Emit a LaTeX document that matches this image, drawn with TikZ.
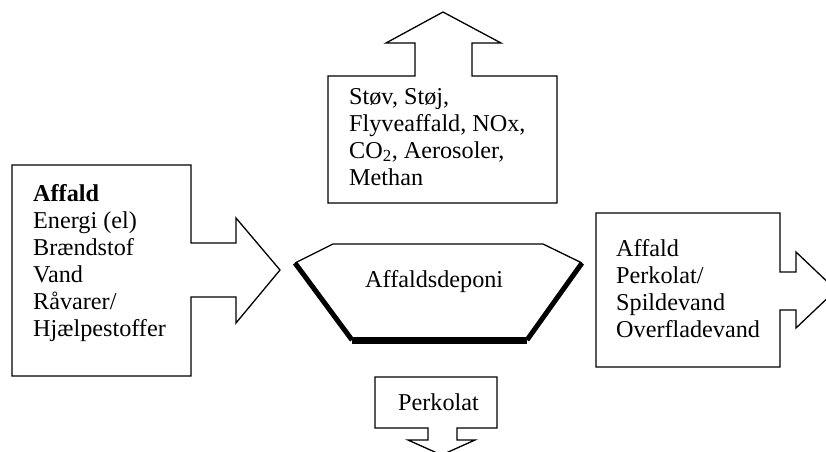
\documentclass[tikz,border=0pt]{standalone}
\usepackage{fontspec}
\setmainfont{Liberation Serif}
\begin{document}
\begin{tikzpicture}[x=1pt,y=-1pt,
  callout/.style={draw=black,line width=1.3pt,fill=white,line join=miter},
  txt/.style={anchor=base west,inner sep=0pt,font=\fontsize{24.2}{27}\selectfont}]
\useasboundingbox (0,0) rectangle (826,451);
\clip (0,0) rectangle (826,451);
% left callout
\draw[callout] (12,165) -- (191,165) -- (191,243) -- (236,243) -- (236,218) -- (280,270)
  -- (236,323) -- (236,297) -- (191,297) -- (191,376) -- (12,376) -- cycle;
\node[txt] (l1) at (33,201) {\textbf{Affald}};
\node[txt] (l2) at (33,228) {Energi (el)};
\node[txt] (l3) at (33,255) {Brændstof};
\node[txt] (l4) at (33,282) {Vand};
\node[txt] (l5) at (33,309) {Råvarer/};
\node[txt] (l6) at (33,336) {Hjælpestoffer};
% top callout
\draw[callout] (328,76) -- (415,76) -- (415,43) -- (386,43) -- (443,12) -- (501,43)
  -- (472,43) -- (472,76) -- (557,76) -- (557,203) -- (328,203) -- cycle;
\node[txt] (t1) at (349,104) {Støv, Støj,};
\node[txt] (t2) at (349,131) {Flyveaffald, NOx,};
\node[txt] (t3) at (349,158) {CO\textsubscript{2}, Aerosoler,};
\node[txt] (t4) at (349,185) {Methan};
% right callout
\draw[callout] (596,213) -- (780,213) -- (780,272) -- (796,272) -- (796,252) -- (836,290)
  -- (796,328) -- (796,310) -- (780,310) -- (780,367) -- (596,367) -- cycle;
\node[txt] (r1) at (616,256) {Affald};
\node[txt] (r2) at (616,283) {Perkolat/};
\node[txt] (r3) at (616,310) {Spildevand};
\node[txt] (r4) at (616,337) {Overfladevand};
% bottom callout
\draw[callout] (375,377) -- (497,377) -- (497,428) -- (457,428) -- (457,440) -- (475,440)
  -- (441.5,455) -- (408,440) -- (428,440) -- (428,428) -- (375,428) -- cycle;
\node[txt] (b1) at (398,410) {Perkolat};
% hexagon (landfill)
\coordinate (h1) at (295,263);
\coordinate (h2) at (333,244);
\coordinate (h3) at (543,244);
\coordinate (h4) at (582,263);
\coordinate (h5) at (527,340);
\coordinate (h6) at (352,340);
\fill[white] (h1) -- (h2) -- (h3) -- (h4) -- (h5) -- (h6) -- cycle;
\draw[line width=1.3pt] (h1) -- (h2) -- (h3) -- (h4);
\draw[line width=5pt] (h4) -- (h5);
\draw[line width=5pt] (h6) -- (h1);
\draw[line width=7pt] (h5) -- (h6);
\node[txt] (c1) at (365,287) {Affaldsdeponi};
\end{tikzpicture}
\end{document}
